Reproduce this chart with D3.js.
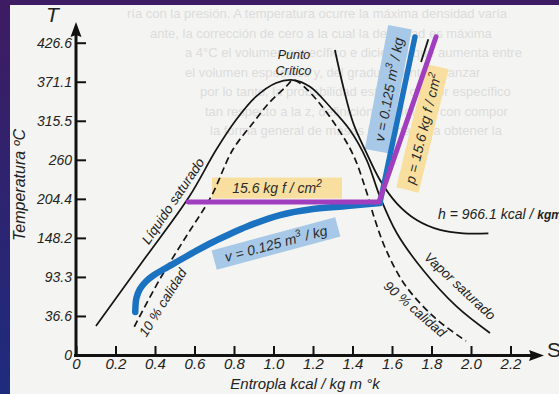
<!DOCTYPE html>
<html>
<head>
<meta charset="utf-8">
<script src="https://cdn.jsdelivr.net/npm/d3@7"></script>
<style>
  body { margin: 0; overflow: hidden; }
  svg { display: block; }
</style>
</head>
<body>
<div id="root"></div>
<script>
// ---- data (s in kcal/kg K, T in degC) ----
const xTicks = [0, 0.2, 0.4, 0.6, 0.8, 1.0, 1.2, 1.4, 1.6, 1.8, 2.0, 2.2];
const xTickLabels = ['0', '0.2', '0.4', '0.6', '0.8', '1.0', '1.2', '1.4', '1.6', '1.8', '2.0', '2.2'];
const yTicks = [0, 36.6, 93.3, 148.2, 204.4, 260, 315.5, 371.1, 426.6];

const satLiquid = [[0.101, 27.2], [0.337, 115.0], [0.572, 207.0], [0.709, 273.9], [0.810, 316.6],
  [0.911, 349.8], [1.013, 369.3], [1.099, 373.5]];
const satVapor = [[1.099, 373.5], [1.185, 364.0], [1.286, 335.5], [1.387, 302.3], [1.472, 259.7],
  [1.539, 207.5], [1.624, 155.2], [1.757, 103.0], [1.928, 50.0], [2.096, 20.6]];
const quality10 = [[0.295, 26.5], [0.422, 88.8], [0.557, 149.9], [0.684, 207.5], [0.793, 273.9],
  [0.895, 311.9], [0.977, 340.8], [1.063, 364.0], [1.099, 373.5]];
const quality90 = [[1.099, 373.5], [1.134, 369.0], [1.219, 345.1], [1.320, 307.1], [1.404, 266.8],
  [1.468, 217.0], [1.514, 173.9], [1.570, 131.2], [1.666, 81.6], [1.818, 34.7], [1.975, 13.1]];
const enthalpy966 = [[1.311, 416.2], [1.353, 364.0], [1.404, 311.9], [1.472, 269.2], [1.539, 231.3],
  [1.624, 198.0], [1.725, 173.9], [1.843, 159.6], [1.961, 154.8], [2.088, 154.8]];
const pressureBlack = [[1.747, 399.1], [1.784, 431.4]];
const volumeWet = [[0.300, 42.4], [0.306, 62.7], [0.324, 75.8], [0.354, 86.7], [0.395, 96.0],
  [0.446, 104.4], [0.527, 117.1], [0.608, 129.8], [0.694, 142.4], [0.780, 153.8], [0.866, 164.6],
  [1.033, 181.1], [1.200, 189.8], [1.372, 194.1], [1.539, 198.4]];
const volumeSuper = [[1.539, 198.4], [1.716, 434.7]];
const pressure156 = [[0.569, 200], [1.534, 200], [1.823, 435.1]];

const pageText = [
  'ría con la presión. A temperatura ocurre la máxima densidad varía',
  'ante, la corrección de cero a la cual la densidad es máxima',
  'a 4°C el volumen específico e diciendo que aumenta entre',
  'el volumen específico y, del graduaImente alcanzar',
  'por lo tanto, la probabilidad estados o calor específico',
  'tan respecto a la z, definición del líquido con compor',
  'la forma general de másas importa para obtener la'
];

const width = 559, height = 394;
const font = "'Liberation Sans', Arial, sans-serif";

const svg = d3.select('#root').append('svg')
  .attr('width', width)
  .attr('height', height);

// slide background and photographed page
const grad = svg.append('defs').append('linearGradient')
  .attr('id', 'slide').attr('x1', 0).attr('y1', 0).attr('x2', 0).attr('y2', 1);
grad.append('stop').attr('offset', '0%').attr('stop-color', '#3e1c63');
grad.append('stop').attr('offset', '100%').attr('stop-color', '#1e2b7d');
svg.append('rect').attr('width', width).attr('height', height).attr('fill', 'url(#slide)');
svg.append('rect').attr('x', 10).attr('y', 5).attr('width', width - 10).attr('height', height - 5)
  .attr('fill', '#f4f4f2');

// faint show-through text of the page
svg.append('g')
  .attr('font-family', font).attr('font-size', 13).attr('fill', '#dcdcdc')
  .selectAll('text').data(pageText).join('text')
  .attr('x', (d, i) => [127, 150, 185, 185, 200, 205, 210][i])
  .attr('y', (d, i) => 18 + i * 19.5)
  .text(d => d);

// scales: the y ticks sit at equal steps on the page
const x = d3.scaleLinear().domain([0, 2.2]).range([76, 510.5]);
const yStep = d3.scaleLinear().domain([0, yTicks.length - 1]).range([355, 42.7]);
const y = d3.scaleLinear().domain(yTicks).range(yTicks.map((d, i) => yStep(i)));

const boxLayer = svg.append('g');
const curveLayer = svg.append('g');
const textLayer = svg.append('g').attr('font-family', font).attr('font-style', 'italic').attr('fill', '#222');

// colored label boxes
function box(cx, cy, angle, w, h, fill) {
  boxLayer.append('rect')
    .attr('transform', `translate(${cx},${cy}) rotate(${angle})`)
    .attr('x', -w / 2).attr('y', -h / 2)
    .attr('width', w).attr('height', h)
    .attr('fill', fill);
}
box(277, 188, 0, 130, 21, '#f8df9f');
box(276, 243.5, -15, 128, 20, '#a7c9e7');
box(388.3, 89.2, -79.3, 126, 24, '#a7c9e7');
box(422.5, 128.3, -76.3, 127, 23, '#f8df9f');

// curves
const smooth = d3.line().x(d => x(d[0])).y(d => y(d[1])).curve(d3.curveCatmullRom.alpha(0.5));
const straight = d3.line().x(d => x(d[0])).y(d => y(d[1]));

curveLayer.append('path')
  .attr('d', smooth(satLiquid.concat(satVapor.slice(1))))
  .attr('fill', 'none').attr('stroke', '#141414').attr('stroke-width', 1.7);

curveLayer.append('path')
  .attr('d', smooth(quality10.concat(quality90.slice(1))))
  .attr('fill', 'none').attr('stroke', '#141414').attr('stroke-width', 1.7)
  .attr('stroke-dasharray', '7,4');

curveLayer.append('path')
  .attr('d', smooth(enthalpy966))
  .attr('fill', 'none').attr('stroke', '#141414').attr('stroke-width', 1.8);

curveLayer.append('path')
  .attr('d', straight(pressureBlack))
  .attr('fill', 'none').attr('stroke', '#141414').attr('stroke-width', 1.8);

curveLayer.append('path')
  .attr('d', smooth(volumeWet))
  .attr('fill', 'none').attr('stroke', '#1b72c1').attr('stroke-width', 6.5)
  .attr('stroke-linecap', 'round');

curveLayer.append('path')
  .attr('d', straight(volumeSuper))
  .attr('fill', 'none').attr('stroke', '#1b72c1').attr('stroke-width', 5.5)
  .attr('stroke-linecap', 'round');

curveLayer.append('path')
  .attr('d', straight(pressure156))
  .attr('fill', 'none').attr('stroke', '#a03ebf').attr('stroke-width', 5)
  .attr('stroke-linejoin', 'round').attr('stroke-linecap', 'round');

// axes
const xAxis = d3.axisBottom(x)
  .tickValues(xTicks)
  .tickFormat((d, i) => xTickLabels[i])
  .tickSizeInner(-9).tickSizeOuter(0).tickPadding(3);
const gx = svg.append('g').attr('transform', 'translate(0,355)').call(xAxis);
gx.select('.domain').remove();
gx.selectAll('line').attr('stroke', '#111').attr('stroke-width', 2);
gx.selectAll('text').attr('font-family', font).attr('font-size', 15).attr('font-style', 'italic').attr('fill', '#222');

const yAxis = d3.axisLeft(y)
  .tickValues(yTicks)
  .tickFormat(d => String(d))
  .tickSizeInner(-10).tickSizeOuter(0).tickPadding(4);
const gy = svg.append('g').attr('transform', 'translate(76,0)').call(yAxis);
gy.select('.domain').remove();
gy.selectAll('line').attr('stroke', '#111').attr('stroke-width', 2);
gy.selectAll('text').attr('font-family', font).attr('font-size', 14).attr('font-style', 'italic').attr('fill', '#222');

// axis lines with arrows
svg.append('line').attr('x1', 74).attr('x2', 532).attr('y1', 355.5).attr('y2', 355.5)
  .attr('stroke', '#111').attr('stroke-width', 3);
svg.append('line').attr('x1', 76).attr('x2', 76).attr('y1', 357).attr('y2', 34)
  .attr('stroke', '#111').attr('stroke-width', 3);
svg.append('path').attr('d', 'M544,355.5 L529,350 L531,355.5 L529,361 Z').attr('fill', '#111');
svg.append('path').attr('d', 'M76,22 L70.5,37 L76,35 L81.5,37 Z').attr('fill', '#111');

// axis titles
textLayer.append('text').attr('x', 52.5).attr('y', 22).attr('text-anchor', 'middle')
  .attr('font-size', 21).text('T');
textLayer.append('text').attr('transform', 'translate(25,185) rotate(-90)')
  .attr('text-anchor', 'middle').attr('font-size', 16).text('Temperatura ºC');
textLayer.append('text').attr('x', 305).attr('y', 389).attr('text-anchor', 'middle')
  .attr('font-size', 15).text('Entropla kcal / kg m °k');
textLayer.append('text').attr('x', 547).attr('y', 357).attr('font-style', 'normal')
  .attr('font-size', 21).text('S');

// curve labels
textLayer.append('text').attr('x', 294).attr('y', 58.5).attr('text-anchor', 'middle')
  .attr('font-size', 12.5).text('Punto');
textLayer.append('text').attr('x', 293.5).attr('y', 75).attr('text-anchor', 'middle')
  .attr('font-size', 12.5).text('Crítico');

function rotLabel(cx, cy, angle, size, txt) {
  textLayer.append('text')
    .attr('transform', `translate(${cx},${cy}) rotate(${angle})`)
    .attr('text-anchor', 'middle').attr('dy', '0.35em')
    .attr('font-size', size).text(txt);
}
rotLabel(173, 201, -56, 13.5, 'Líquido saturado');
rotLabel(162.7, 302.5, -58, 13.5, '10 % calidad');
rotLabel(460, 286, 43, 13.5, 'Vapor saturado');
rotLabel(415, 309, 41, 13.5, '90 % calidad');

const hLabel = textLayer.append('text').attr('x', 438).attr('y', 219).attr('font-size', 14);
hLabel.append('tspan').text('h = 966.1 kcal / ');
hLabel.append('tspan').attr('font-weight', 'bold').attr('font-size', 12).text('kgm');

// texts inside the colored boxes
function boxText(cx, cy, angle, base, sup, tail) {
  const t = textLayer.append('text')
    .attr('transform', `translate(${cx},${cy}) rotate(${angle})`)
    .attr('text-anchor', 'middle').attr('y', 5)
    .attr('font-size', 14).attr('fill', '#2b2b2b');
  t.append('tspan').text(base);
  t.append('tspan').attr('font-size', 10).attr('dy', -6).text(sup);
  if (tail) t.append('tspan').attr('dy', 6).text(tail);
}
boxText(277, 188, 0, '15.6 kg f / cm', '2', '');
boxText(276, 243.5, -15, 'v = 0.125 m', '3', ' / kg');
boxText(389, 89.5, -79.3, 'v = 0.125 m', '3', ' / kg');
boxText(423, 128.5, -76.3, 'p = 15.6 kg f / cm', '2', '');
</script>
</body>
</html>
